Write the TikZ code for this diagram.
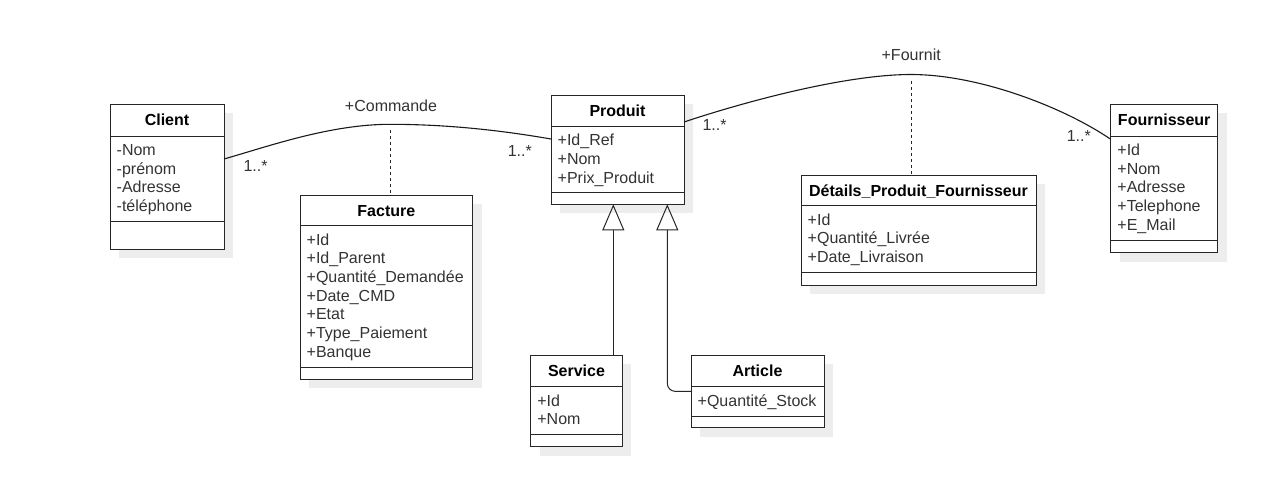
\documentclass[tikz,border=0pt]{standalone}
\usepackage{fontspec}
\setmainfont{Liberation Sans}
\usetikzlibrary{arrows.meta,shadows,fit,calc}
\tikzset{
  classbox/.style={draw=black!85, line width=1pt, fill=white, inner sep=0pt, outer sep=0pt,
    drop shadow={shadow xshift=9pt, shadow yshift=-9pt, fill=black!7, opacity=1}},
  sepline/.style={draw=black!85, line width=1pt},
  ctitle/.style={font=\fontsize{16}{19}\selectfont\bfseries, text=black, anchor=base, inner sep=0pt},
  attr/.style={font=\fontsize{16}{19}\selectfont, text=black!80, anchor=base west, inner sep=0pt},
  mult/.style={font=\fontsize{16}{19}\selectfont, text=black!80, anchor=base west, inner sep=0pt},
  lbl/.style={font=\fontsize{16}{19}\selectfont, text=black!80, anchor=base, inner sep=0pt},
  assoc/.style={draw=black!90, line width=1.1pt},
  dashlink/.style={draw=black!85, line width=1pt, dash pattern=on 3pt off 3pt},
  gen/.style={draw=black!85, line width=1pt, rounded corners=8pt,
    -{Triangle[open, length=26pt, width=22pt]}},
}
% #1 name, #2 left, #3 top, #4 right, #5 bottom, #6 header line, #7 separator, #8 title, #9 attributes
\newcommand\umlclass[9]{%
  \node[classbox, fit={(#2,#3) (#4,#5)}] (#1) {};
  \draw[sepline] (#2,#6) -- (#4,#6);
  \draw[sepline] (#2,#7) -- (#4,#7);
  \node[ctitle] (#1-title) at ({(#2+#4)/2},{(#3+#6)/2+5.7}) {#8};
  \foreach \txt [count=\i] in {#9} {\node[attr] (#1-a\i) at ({#2+6.5},{#6+19.3+(\i-1)*18.7}) {\txt};}
}
\begin{document}
\begin{tikzpicture}[x=1pt,y=-1pt]
  \fill[white] (0,0) rectangle (1283,480);
  \useasboundingbox (0,0) rectangle (1283,480);

  \umlclass{client}{110}{104}{224}{249}{136}{221}{Client}{-Nom,-prénom,-Adresse,-téléphone}
  \umlclass{facture}{300}{195}{472.7}{379}{225.7}{367.7}{Facture}{+Id,+Id\_Parent,+Quantité\_Demandée,+Date\_CMD,+Etat,+Type\_Paiement,+Banque}
  \umlclass{produit}{551}{95}{684}{204.3}{126.3}{192.3}{Produit}{+Id\_Ref,+Nom,+Prix\_Produit}
  \umlclass{details}{801}{175}{1036}{285}{205.7}{272.7}{Détails\_Produit\_Fournisseur}{+Id,+Quantité\_Livrée,+Date\_Livraison}
  \umlclass{fournisseur}{1110.7}{104.3}{1217.7}{252.7}{136}{240.7}{Fournisseur}{+Id,+Nom,+Adresse,+Telephone,+E\_Mail}
  \umlclass{service}{530.7}{355}{622.3}{446.7}{386.7}{434}{Service}{+Id,+Nom}
  \umlclass{article}{691}{355}{824}{427.7}{386.7}{416}{Article}{+Quantité\_Stock}

  % association Commande
  \coordinate (cpeak) at (390,124.3);
  \draw[assoc] ([yshift=-55pt]client.north east) .. controls (268,146.5) and (330,124.3) .. (cpeak)
     .. controls (450,124.3) and (505,131) .. ([yshift=-44pt]produit.north west);
  \draw[dashlink] ([yshift=-6pt]cpeak) -- (cpeak |- facture.north);
  \node[lbl] (lcmd) at (391,111.7) {+Commande};
  \node[mult] (m1) at (243.3,171) {1..*};
  \node[mult] (m2) at (507.6,156) {1..*};

  % association Fournit
  \coordinate (fpeak) at (911,74.5);
  \draw[assoc] ([yshift=-27pt]produit.north east) .. controls (744,102) and (845,74.5) .. (fpeak)
     .. controls (980,74.5) and (1065,108) .. ([yshift=-35pt]fournisseur.north west);
  \draw[dashlink] ([yshift=-6pt]fpeak) -- (fpeak |- details.north);
  \node[lbl] (lfour) at (911.2,60.7) {+Fournit};
  \node[mult] (m3) at (702.3,130.7) {1..*};
  \node[mult] (m4) at (1066.6,141) {1..*};

  % generalizations
  \draw[gen] ([xshift=36.8pt]service.north) -- ([xshift=36.8pt]service.north |- produit.south);
  \draw[gen] (article.west) -| ([xshift=49.8pt]produit.south);
\end{tikzpicture}
\end{document}
